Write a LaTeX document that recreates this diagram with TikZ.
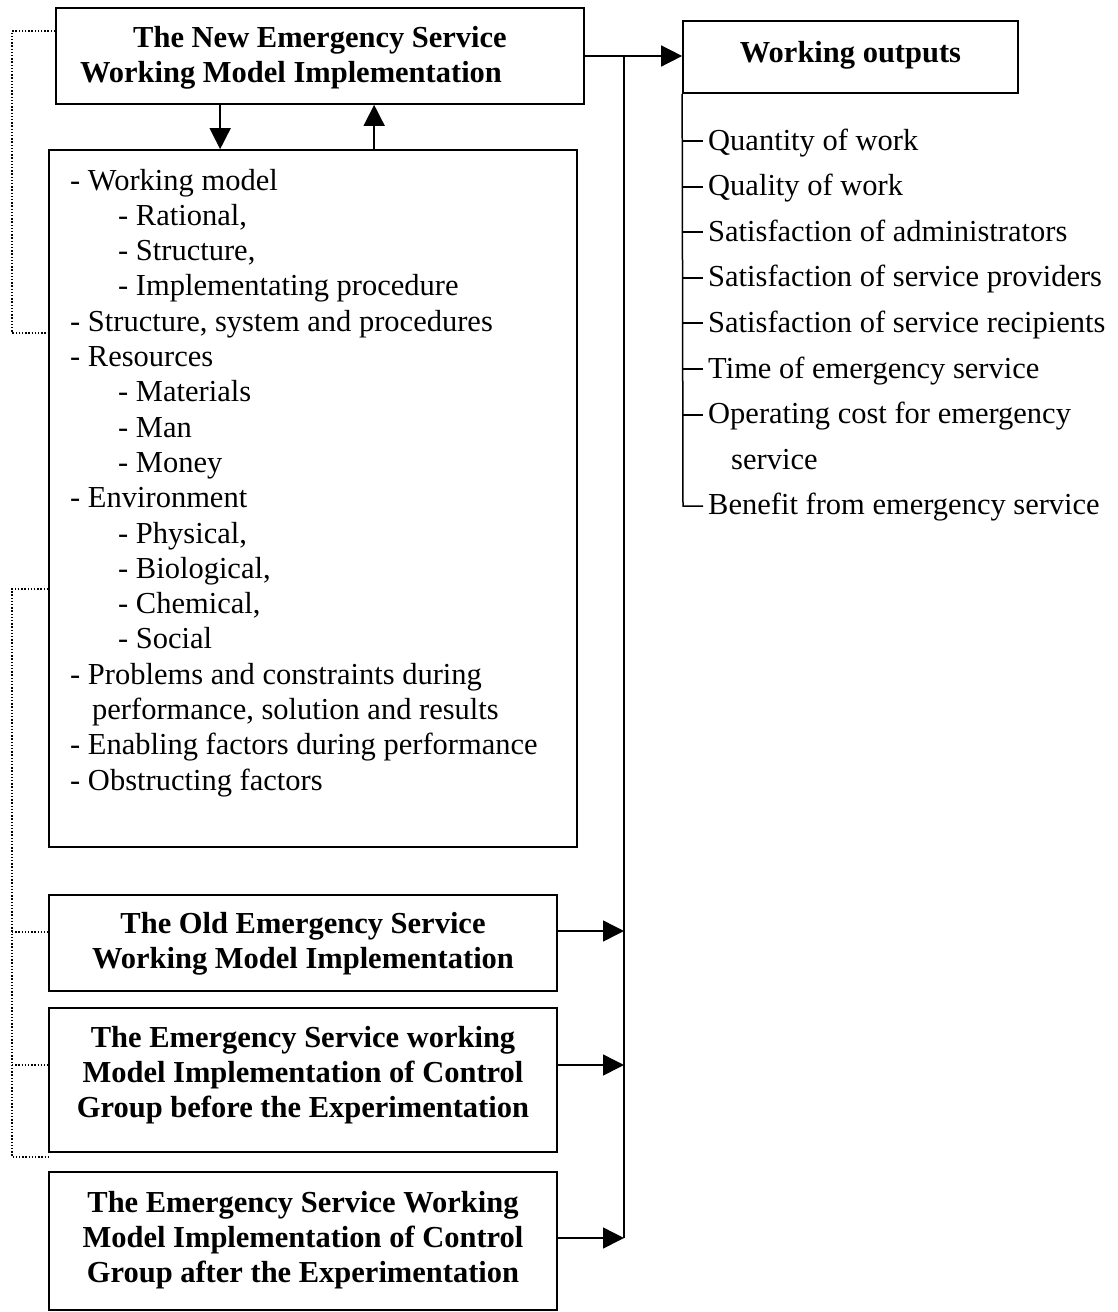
\documentclass[tikz,border=0pt]{standalone}
\usepackage{fontspec}
\setmainfont{Liberation Serif}
\usetikzlibrary{arrows.meta}
\newcommand\fsz{\fontsize{30.5}{35.3}\selectfont}
\begin{document}
\begin{tikzpicture}[x=1pt,y=-1pt,
  box/.style={draw, line width=1.7pt, inner sep=0pt},
  conn/.style={line width=1.5pt},
  arr/.style={line width=1.5pt, -{Triangle[length=21pt,width=21pt]}},
  dot/.style={line width=1.4pt, dash pattern=on 1.3pt off 1.9pt},
  ttl/.style={font=\fsz\bfseries, inner sep=0pt, anchor=base},
  txt/.style={font=\fsz, inner sep=0pt, anchor=base west}]
\useasboundingbox (0,0) rectangle (1117,1312);

% boxes
\node[box, minimum width=528pt, minimum height=96pt] (new) at (320,56) {};
\node[box, minimum width=335pt, minimum height=72pt] (wo) at (850.5,57) {};
\node[box, minimum width=528pt, minimum height=697pt] (big) at (313,498.5) {};
\node[box, minimum width=508pt, minimum height=96pt] (old) at (303,943) {};
\node[box, minimum width=508pt, minimum height=144pt] (before) at (303,1080) {};
\node[box, minimum width=508pt, minimum height=138pt] (after) at (303,1241) {};

% titles
\node[ttl] (newt) at (320,47) {\begin{tabular}[t]{@{}c@{}}The New Emergency Service\\Working Model Implementation\hspace*{58pt}\end{tabular}};
\node[ttl] (wot) at (850.5,62) {Working outputs};
\node[ttl] (oldt) at (303,933) {\begin{tabular}[t]{@{}c@{}}The Old Emergency Service\\Working Model Implementation\end{tabular}};
\node[ttl] (beforet) at (303,1047) {\begin{tabular}[t]{@{}c@{}}The Emergency Service working\\Model Implementation of Control\\Group before the Experimentation\end{tabular}};
\node[ttl] (aftert) at (303,1212) {\begin{tabular}[t]{@{}c@{}}The Emergency Service Working\\Model Implementation of Control\\Group after the Experimentation\end{tabular}};

% big box content
\node[txt] (bigt) at (70,190) {\begin{tabular}[t]{@{}l@{}}
- Working model\\
\hspace*{48pt}- Rational,\\
\hspace*{48pt}- Structure,\\
\hspace*{48pt}- Implementating procedure\\
- Structure, system and procedures\\
- Resources\\
\hspace*{48pt}- Materials\\
\hspace*{48pt}- Man\\
\hspace*{48pt}- Money\\
- Environment\\
\hspace*{48pt}- Physical,\\
\hspace*{48pt}- Biological,\\
\hspace*{48pt}- Chemical,\\
\hspace*{48pt}- Social\\
- Problems and constraints during\\
\hspace*{22pt}performance, solution and results\\
- Enabling factors during performance\\
- Obstructing factors
\end{tabular}};

% outputs list
\node[txt] (o0) at (708,150) {Quantity of work};
\node[txt] (o1) at (708,195.6) {Quality of work};
\node[txt] (o2) at (708,241.2) {Satisfaction of administrators};
\node[txt] (o3) at (708,286.8) {Satisfaction of service providers};
\node[txt] (o4) at (708,332.4) {Satisfaction of service recipients};
\node[txt] (o5) at (708,378) {Time of emergency service};
\node[txt] (o6) at (708,423.6) {Operating cost for emergency};
\node[txt] (o7) at (731,469.2) {service};
\node[txt] (o8) at (708,514.8) {Benefit from emergency service};

% tree
\coordinate (tb) at (683,506);
\draw[conn] (wo.south west) -- (tb) -- (703,506);
\foreach \y in {141,187,232,278,323,369,415}
  \draw[conn] (683,\y) -- (703,\y);

% connectors
\coordinate (bustop) at (624,56);
\coordinate (busbot) at (624,1238);
\draw[arr] (new.east) -- (wo.west |- new.east);
\draw[conn] (bustop) -- (busbot);
\draw[arr] ([yshift=12pt]old.east) -- (bustop |- 0,931);
\draw[arr] ([yshift=15pt]before.east) -- (bustop |- 0,1065);
\draw[arr] ([yshift=3pt]after.east) -- (busbot);
\draw[arr] ([xshift=165pt]new.south west) -- ([xshift=172pt]big.north west);
\draw[arr] ([xshift=326pt]big.north west) -- ([xshift=319pt]new.south west);

% dotted feedback lines
\draw[dot] (new.west |- 0,31) -| (12,333) -- (big.west |- 0,333);
\draw[dot] (big.west |- 0,589) -| (12,1157) -- (after.west |- 0,1157);
\draw[dot] (12,932) -- (old.west |- 0,932);
\draw[dot] (12,1065) -- (before.west |- 0,1065);
\end{tikzpicture}
\end{document}
